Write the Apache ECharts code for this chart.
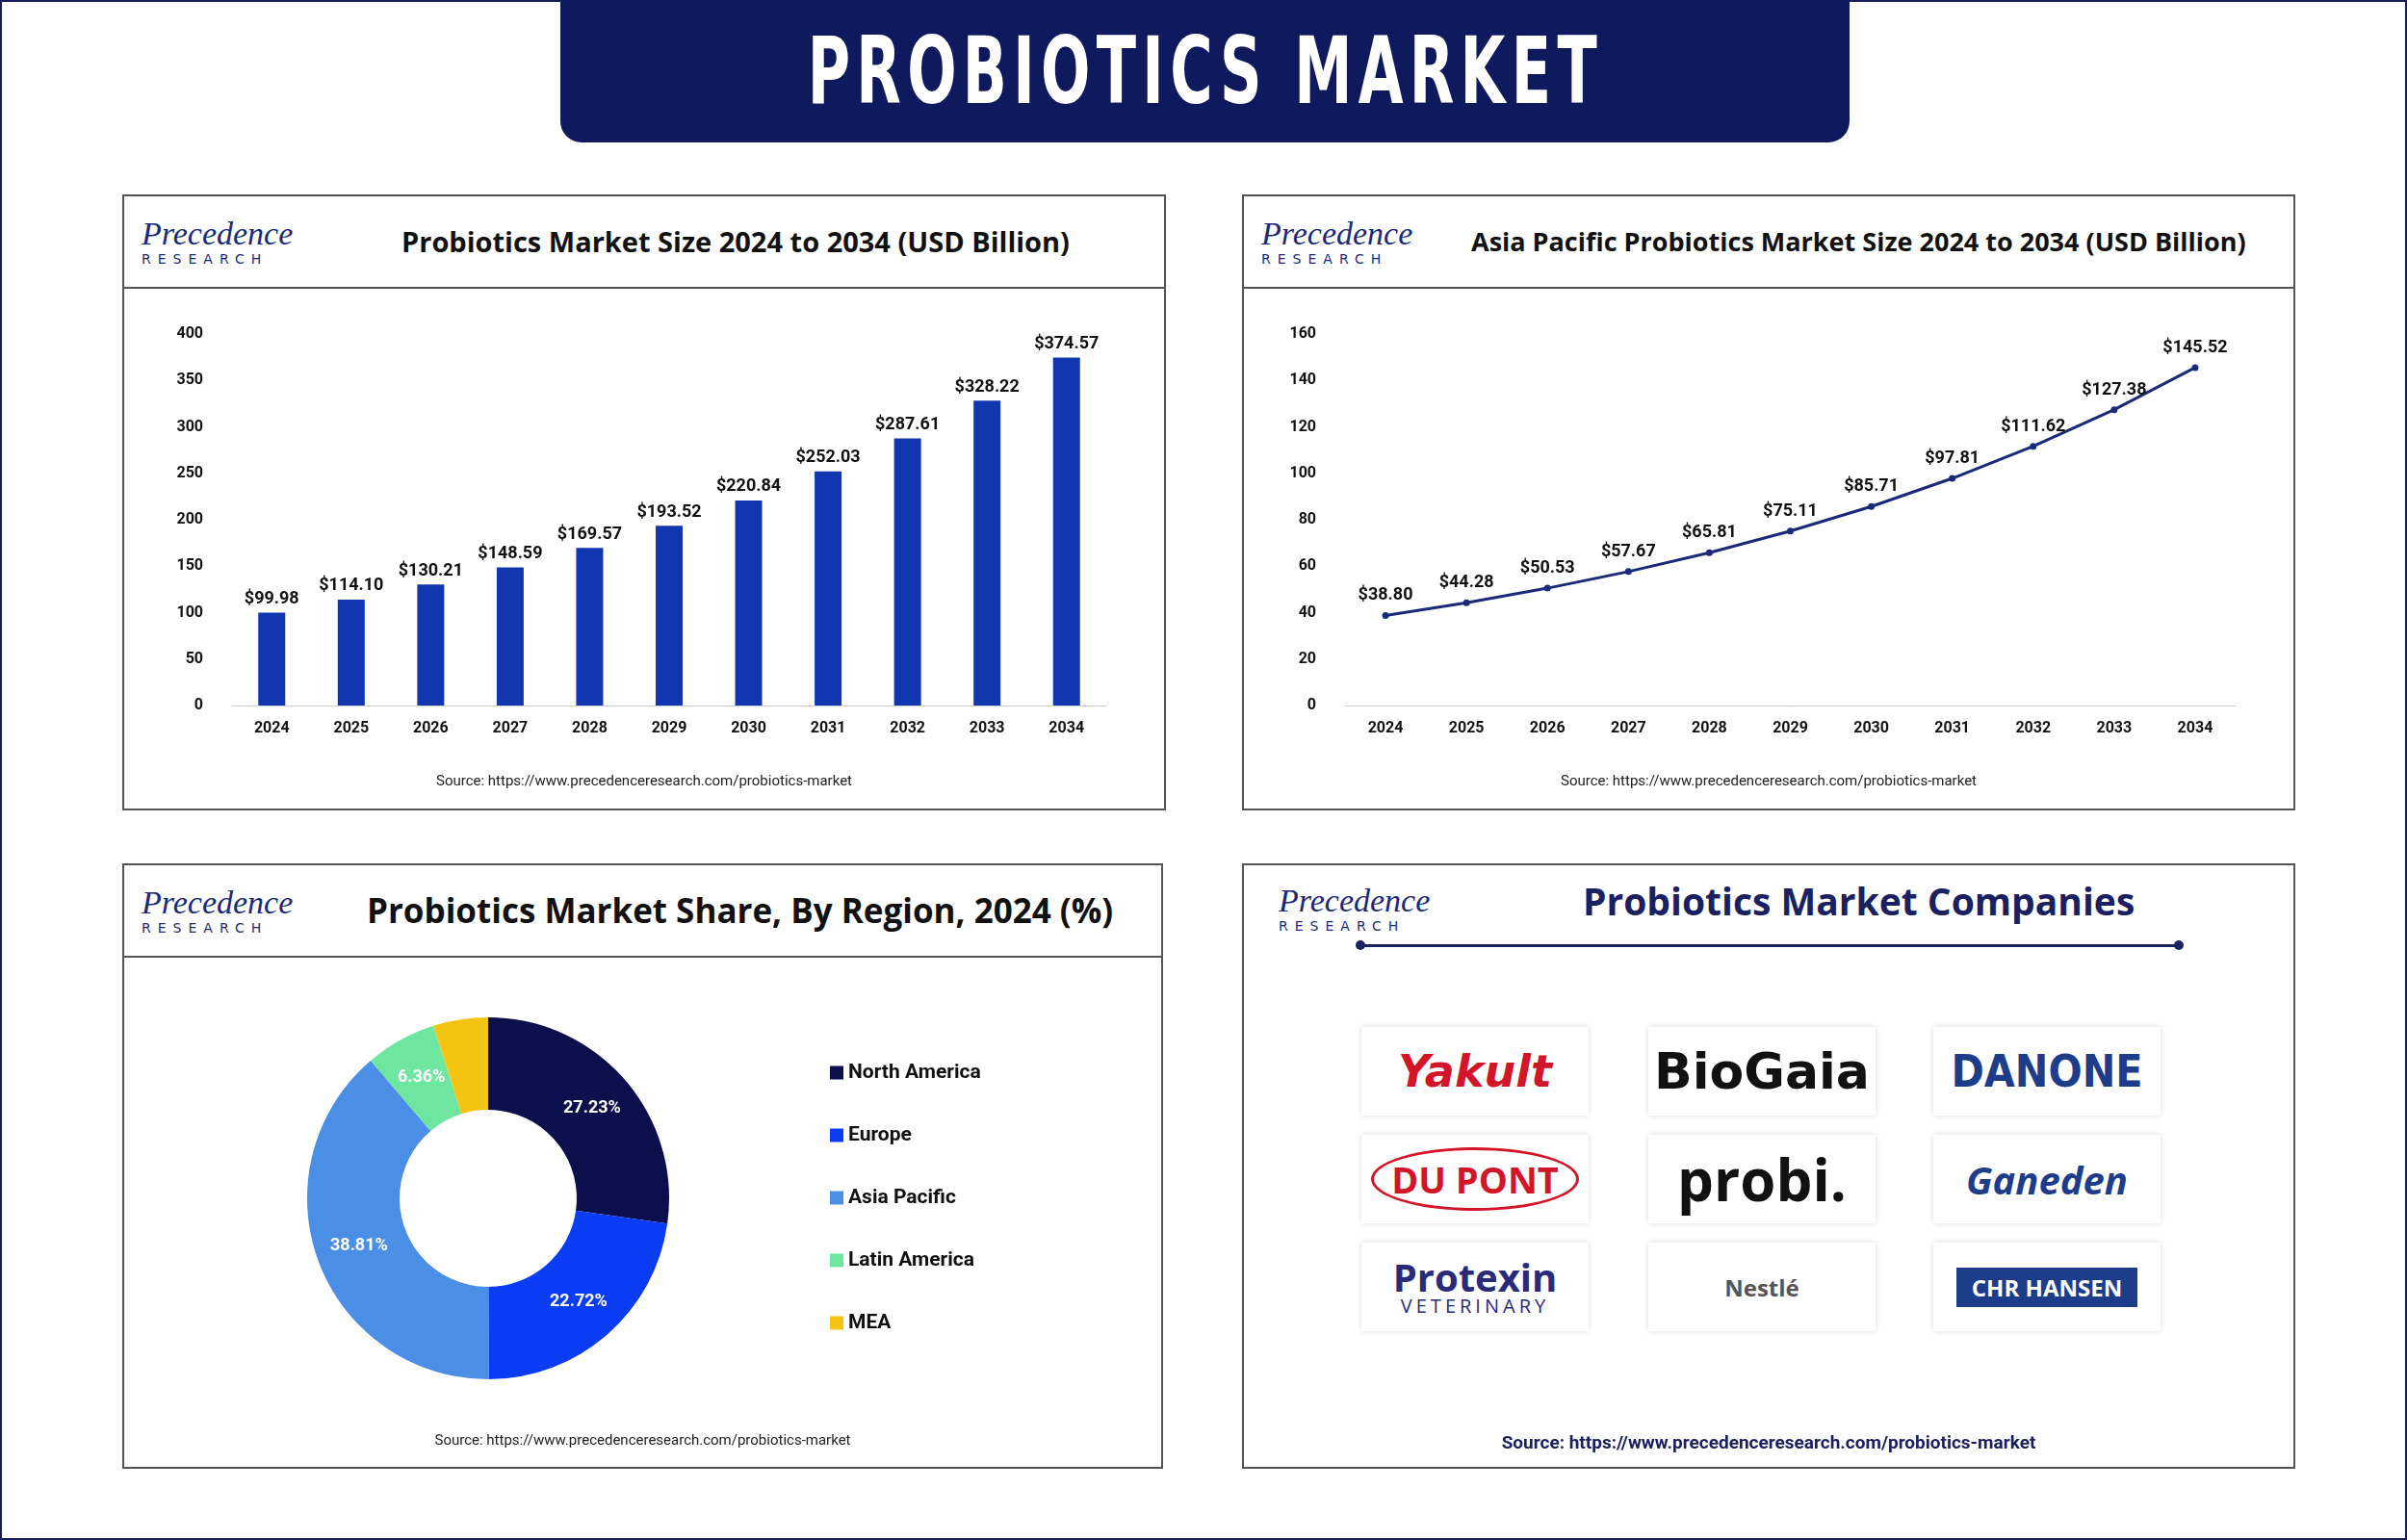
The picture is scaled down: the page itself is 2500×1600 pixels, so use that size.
<!DOCTYPE html>
<html><head><meta charset="utf-8">
<script src="https://cdn.jsdelivr.net/npm/echarts@6/dist/echarts.min.js"></script>
<style>
body{margin:0;width:2500px;height:1600px;background:#fff;font-family:"Open Sans",Lato,sans-serif;position:relative;overflow:hidden}
.frame{position:absolute;left:0;top:0;width:2496px;height:1596px;border:2px solid #141c5c}
.banner{position:absolute;left:582px;top:0;width:1339px;height:148px;background:#0f1a5e;border-radius:0 0 22px 22px;color:#fff;font-family:"DejaVu Sans",sans-serif;font-weight:bold;font-size:96px;letter-spacing:10px;text-align:center;line-height:148px}
.banner span{display:inline-block;transform:scaleX(0.63)}
.panel{position:absolute;border:2px solid #555;background:#fff}
.head{position:absolute;left:0;top:0;right:0;height:94px;border-bottom:2px solid #555}
.logo{position:absolute;left:18px;top:22px;font-family:"Liberation Serif",serif;color:#1a2a7a;line-height:1}
.logo .p{font-size:34px;font-style:italic}
.logo .r{font-size:14px;letter-spacing:7px;margin-top:2px;font-family:"DejaVu Sans",sans-serif}
.ttl{position:absolute;top:0;height:94px;line-height:94px;font-weight:bold;color:#111;font-family:"Open Sans",sans-serif;white-space:nowrap}
.chart{position:absolute;left:0;right:0;bottom:0}
.src{position:absolute;left:0;right:0;text-align:center;font-size:15px;color:#222;font-family:Roboto,sans-serif}
.co{position:absolute;width:236px;height:92px;background:#fff;box-shadow:0 0 6px rgba(0,0,0,.15);display:flex;align-items:center;justify-content:center;font-weight:bold}
</style></head><body>
<div class="frame"></div>
<div class="banner"><span>PROBIOTICS MARKET</span></div>

<div class="panel" style="left:127px;top:202px;width:1080px;height:636px">
 <div class="head"><div class="logo"><div class="p">Precedence</div><div class="r">RESEARCH</div></div>
 <div class="ttl" style="left:288px;font-size:29px">Probiotics Market Size 2024 to 2034 (USD Billion)</div></div>
 <div id="c1" class="chart" style="top:96px"></div>
 <div class="src" style="top:598px">Source: https://www.precedenceresearch.com/probiotics-market</div>
</div>

<div class="panel" style="left:1290px;top:202px;width:1090px;height:636px">
 <div class="head"><div class="logo"><div class="p">Precedence</div><div class="r">RESEARCH</div></div>
 <div class="ttl" style="left:236px;font-size:27px">Asia Pacific Probiotics Market Size 2024 to 2034 (USD Billion)</div></div>
 <div id="c2" class="chart" style="top:96px"></div>
 <div class="src" style="top:598px">Source: https://www.precedenceresearch.com/probiotics-market</div>
</div>

<div class="panel" style="left:127px;top:897px;width:1077px;height:625px">
 <div class="head"><div class="logo"><div class="p">Precedence</div><div class="r">RESEARCH</div></div>
 <div class="ttl" style="left:252px;font-size:35px">Probiotics Market Share, By Region, 2024 (%)</div></div>
 <div id="c3" class="chart" style="top:96px"></div>
 <div class="src" style="top:588px">Source: https://www.precedenceresearch.com/probiotics-market</div>
</div>

<div class="panel" style="left:1290px;top:897px;width:1090px;height:625px">
 <div class="logo" style="left:36px;top:20px"><div class="p">Precedence</div><div class="r">RESEARCH</div></div>
 <div class="ttl" style="left:352px;top:-10px;font-size:39px;color:#1a2060">Probiotics Market Companies</div>
 <div style="position:absolute;left:120px;top:82px;width:852px;height:3px;background:#1a2060"></div>
 <div style="position:absolute;left:116px;top:78px;width:10px;height:10px;border-radius:50%;background:#1a2060"></div>
 <div style="position:absolute;left:966px;top:78px;width:10px;height:10px;border-radius:50%;background:#1a2060"></div>
 <div class="co" style="left:122px;top:168px;color:#d3152a;font-size:46px;font-style:italic;font-family:'DejaVu Sans'">Yakult</div>
 <div class="co" style="left:420px;top:168px;color:#111;font-size:52px;font-family:'DejaVu Sans'">BioGaia</div>
 <div class="co" style="left:716px;top:168px;color:#1d3c8a;font-size:46px;font-family:'DejaVu Sans Condensed'">DANONE</div>
 <div class="co" style="left:122px;top:280px;color:#d3152a;font-size:38px"><span style="border:3px solid #d3152a;border-radius:50%;padding:4px 18px">DU PONT</span></div>
 <div class="co" style="left:420px;top:280px;color:#111;font-size:60px">probi.</div>
 <div class="co" style="left:716px;top:280px;color:#1d3c8a;font-size:40px;font-style:italic">Ganeden</div>
 <div class="co" style="left:122px;top:392px;color:#2a2a7a;font-size:40px;flex-direction:column;line-height:1">Protexin<span style="font-size:20px;letter-spacing:4px;font-weight:normal">VETERINARY</span></div>
 <div class="co" style="left:420px;top:392px;color:#555;font-size:24px">Nestlé</div>
 <div class="co" style="left:716px;top:392px"><span style="background:#1d3c8a;color:#fff;padding:4px 16px;font-size:24px">CHR HANSEN</span></div>
 <div class="src" style="top:588px;font-size:19px;font-weight:bold;color:#1a2060">Source: https://www.precedenceresearch.com/probiotics-market</div>
</div>

<script>
const years = ['2024','2025','2026','2027','2028','2029','2030','2031','2032','2033','2034'];
const marketSize = [99.98,114.10,130.21,148.59,169.57,193.52,220.84,252.03,287.61,328.22,374.57];
const apacSize = [38.80,44.28,50.53,57.67,65.81,75.11,85.71,97.81,111.62,127.38,145.52];
const regions = ['North America','Europe','Asia Pacific','Latin America','MEA'];
const regionShare = [27.23,22.72,38.81,6.36,4.88];
const regionColors = ['#0b0f4c','#0a3cf4','#4b8ee6','#6fe6a0','#f5c412'];

const axisTxt = {color:'#111',fontSize:16,fontWeight:'bold',fontFamily:'Roboto'};
const lbl = {show:true,position:'top',fontSize:18,fontWeight:'bold',color:'#111',fontFamily:'Roboto',formatter:p=>'$'+p.value.toFixed(2)};

echarts.init(document.getElementById('c1')).setOption({
  animation:false,
  grid:{left:112,right:60,top:47,bottom:107},
  xAxis:{type:'category',data:years,axisTick:{show:false},axisLine:{lineStyle:{color:'#ccc'}},axisLabel:{...axisTxt,margin:16}},
  yAxis:{type:'value',min:0,max:400,interval:50,splitLine:{show:false},axisLabel:{...axisTxt,margin:30}},
  series:[{type:'bar',data:marketSize,barWidth:28,itemStyle:{color:'#1136b0'},label:lbl}]
});

echarts.init(document.getElementById('c2')).setOption({
  animation:false,
  grid:{left:105,right:60,top:47,bottom:107},
  xAxis:{type:'category',data:years,boundaryGap:true,axisTick:{show:false},axisLine:{lineStyle:{color:'#ccc'}},axisLabel:{...axisTxt,margin:16}},
  yAxis:{type:'value',min:0,max:160,interval:20,splitLine:{show:false},axisLabel:{...axisTxt,margin:30}},
  series:[{type:'line',data:apacSize,symbol:'circle',symbolSize:7,lineStyle:{color:'#1a2a7a',width:3},itemStyle:{color:'#1a2a7a'},label:{...lbl,distance:8}}]
});

echarts.init(document.getElementById('c3')).setOption({
  animation:false,
  legend:{orient:'vertical',left:728,top:104,itemGap:44,itemWidth:14,itemHeight:14,icon:'rect',
    textStyle:{fontSize:21,fontWeight:'bold',color:'#111',fontFamily:'Roboto'}},
  series:[{type:'pie',center:[378,250],radius:[92,188],startAngle:90,
    data:regions.map((n,i)=>({name:n,value:regionShare[i],itemStyle:{color:regionColors[i]}})),
    label:{position:'inside',formatter:'{c}%',fontSize:18,fontWeight:'bold',fontFamily:'Roboto',color:'#fff'},
    labelLine:{show:false}}]
});
</script>
</body></html>
